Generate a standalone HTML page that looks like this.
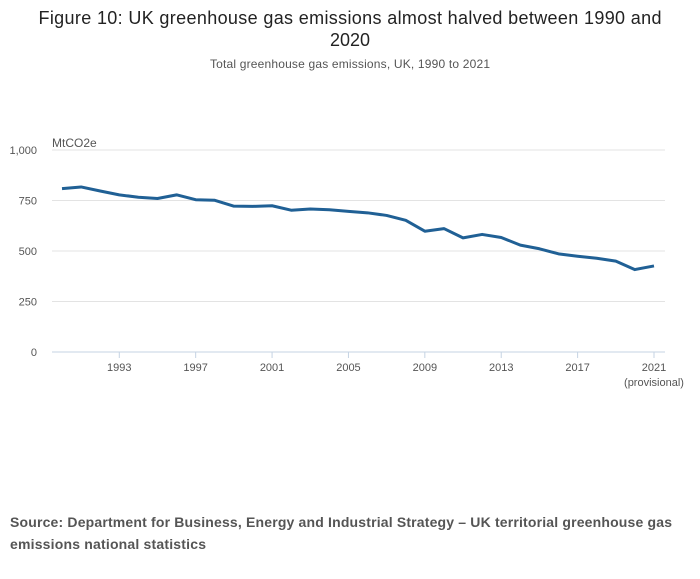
<!DOCTYPE html>
<html><head><meta charset="utf-8"><style>
body{margin:0;background:#fff;width:700px;height:574px;overflow:hidden;font-family:"Liberation Sans",sans-serif}
</style></head><body>
<svg width="700" height="574" id="svg">
<text x="350" y="24" text-anchor="middle" font-size="18" fill="#222" textLength="623">Figure 10: UK greenhouse gas emissions almost halved between 1990 and</text>
<text x="350" y="46" text-anchor="middle" font-size="18" fill="#222">2020</text>
<text x="350" y="68" text-anchor="middle" font-size="12" fill="#555" textLength="280">Total greenhouse gas emissions, UK, 1990 to 2021</text>
<text x="52" y="147" font-size="12" fill="#555">MtCO2e</text>
<g id="grid"></g><g id="ticks"></g><g id="series"></g>
<text x="10" y="527" font-size="14" font-weight="bold" fill="#555" textLength="662">Source: Department for Business, Energy and Industrial Strategy – UK territorial greenhouse gas</text>
<text x="10" y="549" font-size="14" font-weight="bold" fill="#555" textLength="196">emissions national statistics</text>
</svg>
<script>
const years=[1990,1991,1992,1993,1994,1995,1996,1997,1998,1999,2000,2001,2002,2003,2004,2005,2006,2007,2008,2009,2010,2011,2012,2013,2014,2015,2016,2017,2018,2019,2020,2021];
const emissions=[809,817,797,778,766,760,778,754,751,722,721,724,702,708,704,696,689,676,652,598,611,565,582,567,529,511,486,474,464,450,408,426];
const yTicks=[0,250,500,750,1000];
const yTickLabels=["0","250","500","750","1,000"];
const xTicks=[1993,1997,2001,2005,2009,2013,2017,2021];
const xTickLabels=["1993","1997","2001","2005","2009","2013","2017","2021"];
const NS="http://www.w3.org/2000/svg";
const x=v=>62+(v-1990)*(654-62)/31;
const y=v=>352-v*202/1000;
function mk(t,a,p){const e=document.createElementNS(NS,t);for(const k in a)e.setAttribute(k,a[k]);p.appendChild(e);return e;}
const grid=document.getElementById('grid'),ticks=document.getElementById('ticks'),series=document.getElementById('series');
yTicks.forEach((v,i)=>{
 const l=mk('line',{x1:52,x2:665,y1:y(v),y2:y(v),stroke:v===0?'#c5d3e3':'#e3e3e3','stroke-width':1},grid);
 
 
 const t=mk('text',{x:37,y:y(v)+4,'text-anchor':'end','font-size':11,fill:'#555'},grid);
 t.textContent=yTickLabels[i];
 
 
});
xTicks.forEach((v,i)=>{
 const l=mk('line',{x1:x(v),x2:x(v),y1:352,y2:358,stroke:'#c5d3e3'},ticks);
 
 
 const t=mk('text',{x:x(v),y:371,'text-anchor':'middle','font-size':11,fill:'#555'},ticks);
 t.textContent=xTickLabels[i];
 
 
});
const pv=mk('text',{x:x(2021),y:386,'text-anchor':'middle','font-size':11,fill:'#555'},ticks);
pv.textContent='(provisional)';


const p=mk('polyline',{points:years.map((yr,i)=>x(yr)+','+y(emissions[i])).join(' '),fill:'none',stroke:'#206095','stroke-width':3,'stroke-linejoin':'round'},series);


</script>
</body></html>
